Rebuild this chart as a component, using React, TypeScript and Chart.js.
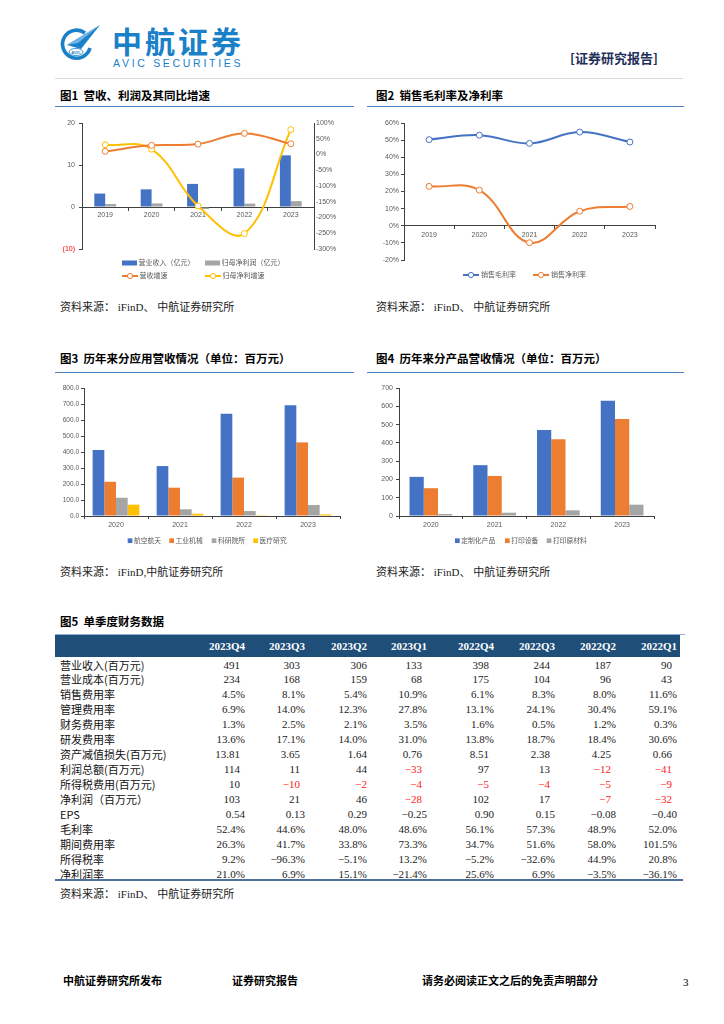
import React, { useEffect, useRef } from 'react';
import Chart from 'chart.js/auto';

const FONT = "'Liberation Sans', 'Noto Sans CJK SC', sans-serif";
const CJK = "'Noto Sans CJK SC', sans-serif";
const SERIF = "'Liberation Serif', 'Noto Sans CJK SC', serif";
Chart.defaults.font.family = FONT;

const BLUE = '#4472C4';
const ORANGE = '#ED7D31';
const GRAY = '#A5A5A5';
const YELLOW = '#FFC000';
const AXIS = '#404040';
const TICK = '#595959';

// ---------- data ----------
const years5 = ['2019', '2020', '2021', '2022', '2023'];
const revenue = [3.2, 4.2, 5.5, 9.2, 12.3];
const netProfit = [0.7, 0.85, -0.5, 0.8, 1.4];
const revenueGrowth = [10, 29, 33, 67, 34];
const profitGrowth = [31, 17, -163, -251, 79];

const grossMargin = [50.3, 52.9, 48.1, 54.7, 48.9];
const netMargin = [23.0, 20.8, -9.9, 8.5, 11.3];

const years4 = ['2020', '2021', '2022', '2023'];
const aerospace = [412, 312, 639, 692];
const industrial = [214, 177, 240, 460];
const research = [114, 42, 31, 69];
const medical = [71, 14, 5, 10];

const customProducts = [214, 278, 470, 630];
const printEquip = [152, 219, 420, 530];
const printMaterial = [11, 18, 31, 62];

const quarters = ['2023Q4', '2023Q3', '2023Q2', '2023Q1', '2022Q4', '2022Q3', '2022Q2', '2022Q1'];
const rowLabels = [
  '营业收入(百万元)', '营业成本(百万元)', '销售费用率', '管理费用率', '财务费用率', '研发费用率',
  '资产减值损失(百万元)', '利润总额(百万元)', '所得税费用(百万元)', '净利润（百万元）', 'EPS',
  '毛利率', '期间费用率', '所得税率', '净利润率',
];
const rowValues = [
  ['491', '303', '306', '133', '398', '244', '187', '90'],
  ['234', '168', '159', '68', '175', '104', '96', '43'],
  ['4.5%', '8.1%', '5.4%', '10.9%', '6.1%', '8.3%', '8.0%', '11.6%'],
  ['6.9%', '14.0%', '12.3%', '27.8%', '13.1%', '24.1%', '30.4%', '59.1%'],
  ['1.3%', '2.5%', '2.1%', '3.5%', '1.6%', '0.5%', '1.2%', '0.3%'],
  ['13.6%', '17.1%', '14.0%', '31.0%', '13.8%', '18.7%', '18.4%', '30.6%'],
  ['13.81', '3.65', '1.64', '0.76', '8.51', '2.38', '4.25', '0.66'],
  ['114', '11', '44', '-33', '97', '13', '-12', '-41'],
  ['10', '-10', '-2', '-4', '-5', '-4', '-5', '-9'],
  ['103', '21', '46', '-28', '102', '17', '-7', '-32'],
  ['0.54', '0.13', '0.29', '-0.25', '0.90', '0.15', '-0.08', '-0.40'],
  ['52.4%', '44.6%', '48.0%', '48.6%', '56.1%', '57.3%', '48.9%', '52.0%'],
  ['26.3%', '41.7%', '33.8%', '73.3%', '34.7%', '51.6%', '58.0%', '101.5%'],
  ['9.2%', '-96.3%', '-5.1%', '13.2%', '-5.2%', '-32.6%', '44.9%', '20.8%'],
  ['21.0%', '6.9%', '15.1%', '-21.4%', '25.6%', '6.9%', '-3.5%', '-36.1%'],
];
const redRows = [7, 8, 9];

// ---------- helpers ----------
type LItem = { ds: number; x: number; y: number };
type LCfg = { barW: number; barH: number; lineW: number; gap: number; fontSize: number };

function makeLegend(items: LItem[], cfg: LCfg) {
  return {
    id: 'posLegend',
    afterDraw(chart: any) {
      const ctx = chart.ctx;
      ctx.save();
      ctx.font = `${cfg.fontSize}px ${FONT}`;
      ctx.textBaseline = 'middle';
      ctx.textAlign = 'left';
      items.forEach((it) => {
        const ds = chart.data.datasets[it.ds];
        const isLine = (ds.type || chart.config.type) === 'line';
        let w: number;
        if (isLine) {
          w = cfg.lineW;
          ctx.strokeStyle = ds.borderColor;
          ctx.lineWidth = 2;
          ctx.beginPath();
          ctx.moveTo(it.x, it.y);
          ctx.lineTo(it.x + w, it.y);
          ctx.stroke();
          ctx.beginPath();
          ctx.arc(it.x + w / 2, it.y, 2.6, 0, Math.PI * 2);
          ctx.fillStyle = '#fff';
          ctx.fill();
          ctx.lineWidth = 1;
          ctx.stroke();
        } else {
          w = cfg.barW;
          ctx.fillStyle = ds.backgroundColor;
          ctx.fillRect(it.x, it.y - cfg.barH / 2, w, cfg.barH);
        }
        ctx.fillStyle = TICK;
        ctx.fillText(ds.label, it.x + w + cfg.gap, it.y);
      });
      ctx.restore();
    },
  };
}

function ChartBox(props: { left: number; top: number; width: number; height: number; make: () => any }) {
  const ref = useRef<HTMLCanvasElement | null>(null);
  useEffect(() => {
    if (!ref.current) return;
    const chart = new Chart(ref.current, props.make());
    return () => chart.destroy();
  }, []);
  return (
    <canvas
      ref={ref}
      width={props.width}
      height={props.height}
      style={{ position: 'absolute', left: props.left, top: props.top }}
    />
  );
}

const tickFont = (size = 7) => ({ size, family: FONT });

function lineDs(label: string, data: number[], color: string, extra: any = {}) {
  return {
    type: 'line',
    label,
    data,
    borderColor: color,
    backgroundColor: '#fff',
    borderWidth: 2,
    pointRadius: 3,
    pointBorderWidth: 1,
    pointBackgroundColor: '#fff',
    pointBorderColor: color,
    tension: 0.4,
    order: 1,
    ...extra,
  };
}

function chart1() {
  return {
    type: 'bar',
    data: {
      labels: years5,
      datasets: [
        { type: 'bar', label: '营业收入（亿元）', data: revenue, backgroundColor: BLUE, yAxisID: 'y', order: 2, categoryPercentage: 0.47, barPercentage: 1 },
        { type: 'bar', label: '归母净利润（亿元）', data: netProfit, backgroundColor: GRAY, yAxisID: 'y', order: 2, categoryPercentage: 0.47, barPercentage: 1 },
        lineDs('营收增速', revenueGrowth, ORANGE, { yAxisID: 'y1' }),
        lineDs('归母净利增速', profitGrowth, YELLOW, { yAxisID: 'y1' }),
      ],
    },
    options: {
      responsive: false,
      animation: false,
      layout: { padding: { top: 16, bottom: 41, left: 0, right: 0 } },
      plugins: { legend: { display: false }, tooltip: { enabled: false } },
      scales: {
        x: {
          type: 'category',
          position: { y: 0 },
          offset: true,
          grid: { offset: true, drawOnChartArea: false, drawTicks: true, tickLength: 3, color: AXIS },
          border: { color: AXIS },
          ticks: { font: tickFont(7), color: TICK, padding: 1, maxRotation: 0 },
        },
        y: {
          position: 'left',
          min: -10,
          max: 20,
          ticks: {
            stepSize: 10,
            font: tickFont(7),
            padding: 4,
            color: (c: any) => (c.tick && c.tick.value < 0 ? '#FF0000' : TICK),
            callback: (v: any) => (Number(v) < 0 ? `(${Math.abs(Number(v))})` : String(v)),
          },
          grid: { drawOnChartArea: false, tickLength: 3, color: AXIS },
          border: { color: AXIS },
          afterFit: (s: any) => { s.width = 27; },
        },
        y1: {
          position: 'right',
          min: -300,
          max: 100,
          ticks: { stepSize: 50, font: tickFont(7), color: TICK, padding: 2, callback: (v: any) => `${v}%` },
          grid: { drawOnChartArea: false, drawTicks: false, color: AXIS },
          border: { color: AXIS },
          afterFit: (s: any) => { s.width = 39; },
        },
      },
    },
    plugins: [
      makeLegend(
        [
          { ds: 0, x: 67, y: 156 },
          { ds: 1, x: 150, y: 156 },
          { ds: 2, x: 67, y: 169 },
          { ds: 3, x: 150, y: 169 },
        ],
        { barW: 15, barH: 5, lineW: 16, gap: 1.5, fontSize: 7 }
      ),
    ],
  };
}

function chart2() {
  return {
    type: 'line',
    data: {
      labels: years5,
      datasets: [
        lineDs('销售毛利率', grossMargin, BLUE),
        lineDs('销售净利率', netMargin, ORANGE),
      ],
    },
    options: {
      responsive: false,
      animation: false,
      layout: { padding: { top: 16, bottom: 30, left: 0, right: 13 } },
      plugins: { legend: { display: false }, tooltip: { enabled: false } },
      scales: {
        x: {
          type: 'category',
          position: { y: 0 },
          offset: true,
          grid: { offset: true, drawOnChartArea: false, drawTicks: true, tickLength: 3, color: AXIS },
          border: { color: AXIS },
          ticks: { font: tickFont(7), color: TICK, padding: 2, maxRotation: 0 },
        },
        y: {
          min: -20,
          max: 60,
          ticks: { stepSize: 10, font: tickFont(7), color: TICK, padding: 2, callback: (v: any) => `${v}%` },
          grid: { drawOnChartArea: false, tickLength: 3, color: AXIS },
          border: { color: AXIS },
          afterFit: (s: any) => { s.width = 34; },
        },
      },
    },
    plugins: [
      makeLegend(
        [
          { ds: 0, x: 93, y: 168 },
          { ds: 1, x: 163, y: 168 },
        ],
        { barW: 5, barH: 5, lineW: 16, gap: 2, fontSize: 7 }
      ),
    ],
  };
}

function barChart(labels: string[], sets: { label: string; data: number[]; color: string }[], o: {
  max: number; fixed: boolean; yWidth: number; padRight: number; catPct: number; legendX: number[]; yPad: number; fontSize: number;
}) {
  return {
    type: 'bar',
    data: {
      labels,
      datasets: sets.map((s) => ({
        label: s.label,
        data: s.data,
        backgroundColor: s.color,
        categoryPercentage: o.catPct,
        barPercentage: 1,
      })),
    },
    options: {
      responsive: false,
      animation: false,
      layout: { padding: { top: 15, bottom: 18, left: 0, right: o.padRight } },
      plugins: { legend: { display: false }, tooltip: { enabled: false } },
      scales: {
        x: {
          grid: { offset: true, drawOnChartArea: false, drawTicks: true, tickLength: 3, color: AXIS },
          border: { color: AXIS },
          ticks: { font: tickFont(7), color: TICK, padding: 1.5, maxRotation: 0 },
          afterFit: (s: any) => { s.height = 16; },
        },
        y: {
          min: 0,
          max: o.max,
          ticks: {
            stepSize: 100,
            font: tickFont(o.fontSize),
            color: TICK,
            padding: o.yPad,
            callback: (v: any) => (o.fixed ? Number(v).toFixed(1) : String(v)),
          },
          grid: { drawOnChartArea: false, tickLength: 3, color: AXIS },
          border: { color: AXIS },
          afterFit: (s: any) => { s.width = o.yWidth; },
        },
      },
    },
    plugins: [
      makeLegend(
        o.legendX.map((x, i) => ({ ds: i, x, y: 167.7 })),
        { barW: 4.7, barH: 4.7, lineW: 16, gap: 1.5, fontSize: 6.8 }
      ),
    ],
  };
}

function chart3() {
  return barChart(
    years4,
    [
      { label: '航空航天', data: aerospace, color: BLUE },
      { label: '工业机械', data: industrial, color: ORANGE },
      { label: '科研院所', data: research, color: GRAY },
      { label: '医疗研究', data: medical, color: YELLOW },
    ],
    { max: 800, fixed: true, yWidth: 29, padRight: 13, catPct: 0.73, legendX: [72.7, 114.3, 156.7, 198.3], yPad: 2, fontSize: 6.5 }
  );
}

function chart4() {
  return barChart(
    years4,
    [
      { label: '定制化产品', data: customProducts, color: BLUE },
      { label: '打印设备', data: printEquip, color: ORANGE },
      { label: '打印原材料', data: printMaterial, color: GRAY },
    ],
    { max: 700, fixed: false, yWidth: 29, padRight: 14, catPct: 0.67, legendX: [85, 135, 176.7], yPad: 3, fontSize: 7 }
  );
}

// ---------- page pieces ----------
function Txt(props: { x: number; y: number; children: any; style?: any }) {
  return (
    <div
      style={{
        position: 'absolute',
        left: props.x,
        top: props.y - 10,
        height: 20,
        lineHeight: '20px',
        whiteSpace: 'pre',
        ...props.style,
      }}
    >
      {props.children}
    </div>
  );
}

const titleStyle = { fontFamily: CJK, fontWeight: 700, fontSize: 11.5, color: '#000' };
const srcStyle = { fontFamily: SERIF, fontSize: 11, color: '#222' };

function Rule(props: { x: number; y: number; w: number; h: number; c: string }) {
  return <div style={{ position: 'absolute', left: props.x, top: props.y, width: props.w, height: props.h, background: props.c }} />;
}

const colRight = [245, 305, 367, 427, 494, 555, 616, 677];
const rowTop = 657.5;
const rowH = 14.93;

function Logo() {
  return (
    <svg style={{ position: 'absolute', left: 54, top: 20 }} width={50} height={42} viewBox="0 0 50 42">
      <path d="M31 13 A14 14 0 1 0 36 28" fill="none" stroke="#1a80c8" strokeWidth={3.6} />
      <path d="M13 25 L46 5 L27 29 Z" fill="#1a80c8" />
      <path d="M13 25 L46 5 L24 23 Z" fill="#6fb4e6" />
      <ellipse cx={22} cy={32} rx={7} ry={3.6} fill="#fff" stroke="#1a80c8" strokeWidth={0.8} />
      <text x={22} y={33.6} textAnchor="middle" fontSize={4} fontFamily={FONT} fontWeight={700} fill="#1a80c8">AVIC</text>
    </svg>
  );
}

export default function App() {
  return (
    <div style={{ position: 'absolute', left: 0, top: 0, width: 724, height: 1024, background: '#fff', overflow: 'hidden' }}>
      <Logo />
      <Txt x={112} y={40} style={{ fontFamily: CJK, fontWeight: 700, fontSize: 30, letterSpacing: 3, color: '#1a80c8', height: 36, lineHeight: '36px', top: 22 }}>中航证券</Txt>
      <Txt x={113} y={63} style={{ fontFamily: FONT, fontSize: 10.5, letterSpacing: 2.7, color: '#1a80c8' }}>AVIC SECURITIES</Txt>
      <Txt x={570} y={58} style={{ fontFamily: CJK, fontWeight: 700, fontSize: 13, color: '#1f2f5a' }}>[证券研究报告]</Txt>
      <Rule x={55} y={78} w={628} h={1} c="#d9d9d9" />

      <Txt x={60} y={95} style={titleStyle}>图1  营收、利润及其同比增速</Txt>
      <Txt x={376} y={95} style={titleStyle}>图2  销售毛利率及净利率</Txt>
      <Rule x={55} y={105.5} w={299} h={1.5} c="#4f81bd" />
      <Rule x={367} y={105.5} w={317} h={1.5} c="#4f81bd" />

      <ChartBox left={55} top={107} width={298} height={183} make={chart1} />
      <ChartBox left={370} top={107} width={298} height={183} make={chart2} />

      <Txt x={60} y={307} style={srcStyle}>资料来源： iFinD、 中航证券研究所</Txt>
      <Txt x={376} y={307} style={srcStyle}>资料来源： iFinD、 中航证券研究所</Txt>

      <Txt x={60} y={358} style={titleStyle}>图3  历年来分应用营收情况（单位：百万元）</Txt>
      <Txt x={376} y={358} style={titleStyle}>图4  历年来分产品营收情况（单位：百万元）</Txt>
      <Rule x={55} y={371.5} w={299} h={1.5} c="#4f81bd" />
      <Rule x={367} y={371.5} w={317} h={1.5} c="#4f81bd" />

      <ChartBox left={55} top={373} width={298} height={177} make={chart3} />
      <ChartBox left={370} top={373} width={298} height={177} make={chart4} />

      <Txt x={60} y={572} style={srcStyle}>资料来源： iFinD,中航证券研究所</Txt>
      <Txt x={376} y={572} style={srcStyle}>资料来源： iFinD、 中航证券研究所</Txt>

      <Txt x={60} y={621} style={titleStyle}>图5  单季度财务数据</Txt>
      <Rule x={55} y={633.5} w={630} h={1} c="#8fb0d8" />
      <Rule x={55} y={634.5} w={625} h={22.5} c="#1f4e79" />
      {quarters.map((q, i) => (
        <div
          key={q}
          style={{
            position: 'absolute', left: colRight[i] - 60, width: 60, top: 634.5, height: 22.5, lineHeight: '22.5px',
            textAlign: 'right', color: '#fff', fontFamily: SERIF, fontWeight: 700, fontSize: 11,
          }}
        >
          {q}
        </div>
      ))}
      {rowLabels.map((lab, r) => (
        <React.Fragment key={lab}>
          <div
            style={{
              position: 'absolute', left: 60, top: rowTop + r * rowH, height: rowH, lineHeight: `${rowH}px`,
              fontFamily: CJK, fontSize: 11, color: '#111', whiteSpace: 'pre',
            }}
          >
            {lab}
          </div>
          {rowValues[r].map((v, i) => {
            const isPct = v.indexOf('%') >= 0 || lab === 'EPS';
            const off = isPct || i === 2 ? 0 : 5;
            const red = redRows.indexOf(r) >= 0 && v.charAt(0) === '-';
            return (
              <div
                key={i}
                style={{
                  position: 'absolute', left: colRight[i] - off - 60, width: 60, top: rowTop + r * rowH, height: rowH,
                  lineHeight: `${rowH}px`, textAlign: 'right', fontFamily: SERIF, fontSize: 11,
                  color: red ? '#ff2020' : '#222',
                }}
              >
                {v.replace('-', '−')}
              </div>
            );
          })}
        </React.Fragment>
      ))}
      <Rule x={55} y={879} w={628} h={1.5} c="#4e6f9a" />
      <Txt x={60} y={894} style={srcStyle}>资料来源： iFinD、 中航证券研究所</Txt>

      <Txt x={63} y={980} style={{ fontFamily: CJK, fontWeight: 700, fontSize: 11, color: '#000' }}>中航证券研究所发布</Txt>
      <Txt x={232} y={980} style={{ fontFamily: CJK, fontWeight: 700, fontSize: 11, color: '#000' }}>证券研究报告</Txt>
      <Txt x={422} y={980} style={{ fontFamily: CJK, fontWeight: 700, fontSize: 11, color: '#000' }}>请务必阅读正文之后的免责声明部分</Txt>
      <Txt x={683} y={982} style={{ fontFamily: SERIF, fontSize: 11, color: '#000' }}>3</Txt>
    </div>
  );
}
